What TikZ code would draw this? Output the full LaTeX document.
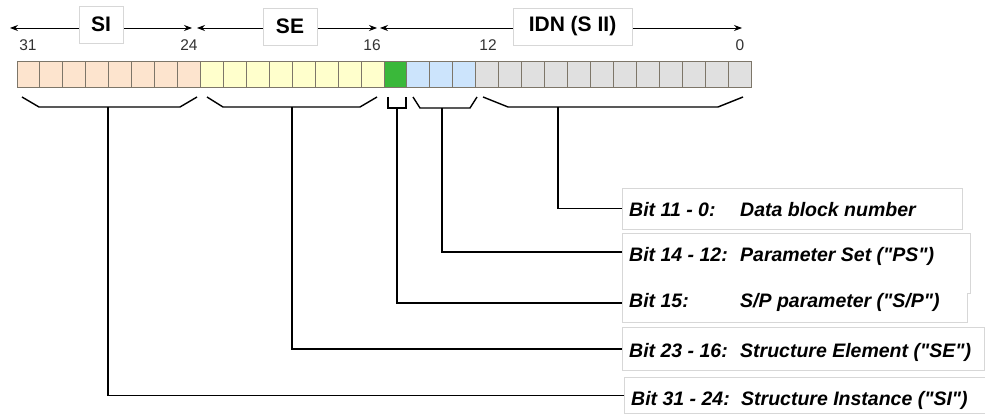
\documentclass[tikz,border=0pt]{standalone}
\usepackage{fontspec}
\setmainfont{Liberation Sans}[Ligatures=TeXOff]
\usetikzlibrary{arrows.meta}
\definecolor{siorange}{RGB}{253,228,206}
\definecolor{seyellow}{RGB}{255,255,204}
\definecolor{spgreen}{RGB}{58,184,58}
\definecolor{psblue}{RGB}{204,228,252}
\definecolor{idngray}{RGB}{224,224,224}
\definecolor{cellline}{RGB}{125,118,105}
\definecolor{boxgray}{RGB}{215,215,215}
\definecolor{numgray}{RGB}{50,50,50}
\tikzset{
  cell/.style={draw=cellline, line width=1pt},
  brace/.style={line width=1.4pt, line join=miter},
  link/.style={line width=1.2pt},
  span/.style={line width=0.8pt, {Stealth[length=8pt,width=6pt]}-{Stealth[length=8pt,width=6pt]}},
  head/.style={draw=boxgray, fill=white, line width=0.8pt, minimum height=37pt,
    font=\fontsize{21}{23}\selectfont\bfseries},
  bitno/.style={font=\fontsize{15.5}{17}\selectfont, text=numgray},
  lbox/.style={draw=boxgray, line width=0.8pt, anchor=north west, inner sep=0pt},
  lbl/.style={anchor=base west, inner sep=0pt, font=\fontsize{19.5}{21}\selectfont\bfseries\itshape},
}
\begin{document}
\begin{tikzpicture}[x=1pt,y=-1pt]
\useasboundingbox (0,0) rectangle (985,414);

% bit cells
\foreach \first/\last/\col in {0/7/siorange, 8/15/seyellow, 16/16/spgreen, 17/19/psblue, 20/31/idngray}
  \foreach \i in {\first,...,\last}
    \draw[cell, fill=\col] ({17+\i*22.9375},62) rectangle ++(22.9375,26);

% spans over the fields
\coordinate (si l) at (10,28);   \coordinate (si r) at (192,28);
\coordinate (se l) at (197,28);  \coordinate (se r) at (377,28);
\coordinate (idn l) at (380,28); \coordinate (idn r) at (742,28);
\draw[span] (si l) -- (si r);
\draw[span] (se l) -- (se r);
\draw[span] (idn l) -- (idn r);
\node[head, minimum width=44pt] (SI) at (101,24.5) {SI};
\node[head, minimum width=54pt] (SE) at (290,26.5) {SE};
\node[head, minimum width=119pt] (IDN) at (572.5,26.5) {IDN (S II)};

\node[bitno] (n31) at (28,45) {31};
\node[bitno] (n24) at (189,45) {24};
\node[bitno] (n16) at (372,45) {16};
\node[bitno] (n12) at (488,45) {12};
\node[bitno] (n0) at (740,45) {0};

% braces under the bits
\draw[brace] (22,97) -- (39,107) -- (180,107) -- (197,97);
\draw[brace] (207,97) -- (223,107) -- (360,107) -- (377,97);
\draw[brace] (388,97) -- (388,108) -- (406,108) -- (406,97);
\draw[brace] (413,97) -- (420,108) -- (470,108) -- (477,97);
\draw[brace] (483,97) -- (508,107) -- (718,107) -- (743,97);
\coordinate (si root) at (108,107);
\coordinate (se root) at (292,107);
\coordinate (sp root) at (397,108);
\coordinate (ps root) at (442,108);
\coordinate (idn root) at (558,107);

% label boxes
\node[lbox, minimum width=340pt, minimum height=41pt] (dbn box) at (622,188) {};
\draw[draw=boxgray, line width=0.8pt] (622,233) -| (970,293) -| (967,322) -| cycle;
\coordinate (ps box) at (622,252);
\coordinate (sp box) at (622,303);
\node[lbox, minimum width=362pt, minimum height=43pt] (se box) at (622,327) {};
\node[lbox, minimum width=370pt, minimum height=36pt] (si box) at (624,377) {};

\node[lbl] (dbn a) at (629,217) {Bit 11 - 0:};
\node[lbl] (dbn b) at (740,217) {Data block number};
\node[lbl] (ps a) at (629,261) {Bit 14 - 12:};
\node[lbl] (ps b) at (740,261) {Parameter Set ("PS")};
\node[lbl] (sp a) at (629,307) {Bit 15:};
\node[lbl] (sp b) at (740,307) {S/P parameter ("S/P")};
\node[lbl] (se a) at (629,357) {Bit 23 - 16:};
\node[lbl] (se b) at (740,357) {Structure Element ("SE")};
\node[lbl] (si a) at (631,405) {Bit 31 - 24:};
\node[lbl] (si b) at (741,405) {Structure Instance ("SI")};

% connectors
\draw[link] (idn root) |- (dbn box.west);
\draw[link] (ps root) |- (ps box);
\draw[link] (sp root) |- (sp box);
\draw[link] (se root) |- (se box.west);
\draw[link] (si root) |- (si box.west);
\end{tikzpicture}
\end{document}
